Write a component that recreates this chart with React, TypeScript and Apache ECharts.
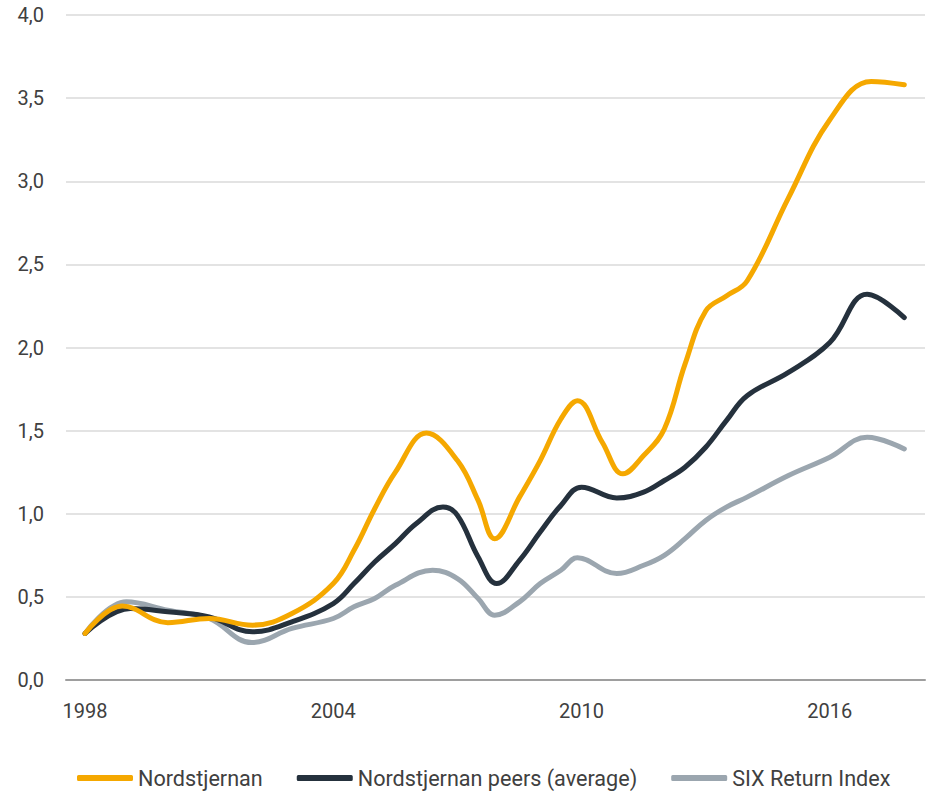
import React, { useEffect, useRef } from "react";
import * as echarts from "echarts";

// Nordstjernan
const nordYears = [1998, 1998.9, 2000, 2001, 2002.05, 2003, 2004, 2004.5, 2005, 2005.5, 2006.25, 2007, 2007.5, 2007.9, 2008.5, 2009, 2009.5, 2009.9, 2010.5, 2011, 2011.5, 2012, 2012.5, 2013, 2013.5, 2014, 2015, 2016, 2017, 2017.8];
const nordValues = [0.28, 0.445, 0.345, 0.37, 0.33, 0.4, 0.58, 0.78, 1.03, 1.25, 1.485, 1.32, 1.08, 0.85, 1.1, 1.32, 1.57, 1.68, 1.43, 1.24, 1.35, 1.51, 1.9, 2.22, 2.31, 2.4, 2.9, 3.37, 3.6, 3.58];
// Nordstjernan peers (average)
const peerYears = [1998, 1999.1, 2000, 2001, 2002.05, 2003, 2004, 2004.5, 2005, 2005.5, 2006, 2006.65, 2007, 2007.5, 2007.95, 2008.5, 2009, 2009.5, 2010, 2010.85, 2011.5, 2012, 2012.5, 2013, 2013.5, 2014, 2015, 2016, 2016.9, 2017.8];
const peerValues = [0.28, 0.43, 0.41, 0.38, 0.29, 0.35, 0.46, 0.58, 0.71, 0.82, 0.94, 1.04, 0.99, 0.74, 0.58, 0.72, 0.89, 1.05, 1.16, 1.095, 1.13, 1.2, 1.28, 1.4, 1.56, 1.71, 1.85, 2.03, 2.32, 2.18];
// SIX Return Index
const sixYears = [1998, 1999, 2000, 2001, 2002.03, 2003, 2004, 2004.5, 2005, 2005.5, 2006.4, 2007, 2007.5, 2007.9, 2008.5, 2009, 2009.5, 2009.9, 2010.85, 2011.5, 2012, 2012.5, 2013, 2013.5, 2014, 2015, 2016, 2016.9, 2017.8];
const sixValues = [0.28, 0.47, 0.42, 0.37, 0.225, 0.31, 0.37, 0.44, 0.49, 0.57, 0.66, 0.61, 0.49, 0.39, 0.47, 0.58, 0.66, 0.735, 0.64, 0.69, 0.75, 0.85, 0.96, 1.04, 1.1, 1.23, 1.34, 1.46, 1.39];

const xLabels = [1998, 2004, 2010, 2016];
const seriesNames = ["Nordstjernan", "Nordstjernan peers (average)", "SIX Return Index"];
const colors = ["#F5A800", "#25313D", "#9BA6AF"];

const pairs = (xs: number[], vals: number[]) => xs.map((x, i) => [x, vals[i]]);

export default function App() {
  const ref = useRef<HTMLDivElement>(null);
  useEffect(() => {
    if (!ref.current) return;
    const chart = echarts.init(ref.current, null, { renderer: "svg" });
    const data = [pairs(nordYears, nordValues), pairs(peerYears, peerValues), pairs(sixYears, sixValues)];
    chart.setOption({
      animation: false,
      textStyle: { fontFamily: "Roboto" },
      grid: { left: 66, right: 2, top: 15, bottom: 111, containLabel: false },
      legend: {
        top: 762,
        left: 72,
        icon: "roundRect",
        itemWidth: 56,
        itemHeight: 6,
        itemGap: 34,
        textStyle: { fontSize: 21.6, color: "#404040", fontFamily: "Roboto" },
        data: seriesNames,
      },
      xAxis: {
        type: "value",
        min: 1997.54,
        max: 2018.3,
        splitLine: { show: false },
        axisTick: { show: false },
        axisLine: { show: true, lineStyle: { color: "#9e9e9e", width: 2 } },
        axisLabel: {
          customValues: xLabels,
          formatter: (v: number) => String(v),
          fontSize: 20,
          color: "#404040",
          margin: 21,
          fontFamily: "Roboto",
        },
      },
      yAxis: {
        type: "value",
        min: 0,
        max: 4,
        interval: 0.5,
        axisLine: { show: false },
        axisTick: { show: false },
        splitLine: { lineStyle: { color: "#dadada", width: 1.5 } },
        axisLabel: {
          formatter: (v: number) => v.toFixed(1).replace(".", ","),
          fontSize: 20,
          color: "#404040",
          margin: 22,
          fontFamily: "Roboto",
        },
      },
      series: seriesNames.map((name, i) => ({
        name,
        type: "line",
        data: data[i],
        smooth: 0.4,
        showSymbol: false,
        symbol: "none",
        z: 10 - i,
        lineStyle: { color: colors[i], width: 5, cap: "round", join: "round" },
        itemStyle: { color: colors[i] },
      })),
    });
    return () => chart.dispose();
  }, []);
  return <div ref={ref} style={{ position: "absolute", left: 0, top: 0, width: 927, height: 791 }} />;
}
